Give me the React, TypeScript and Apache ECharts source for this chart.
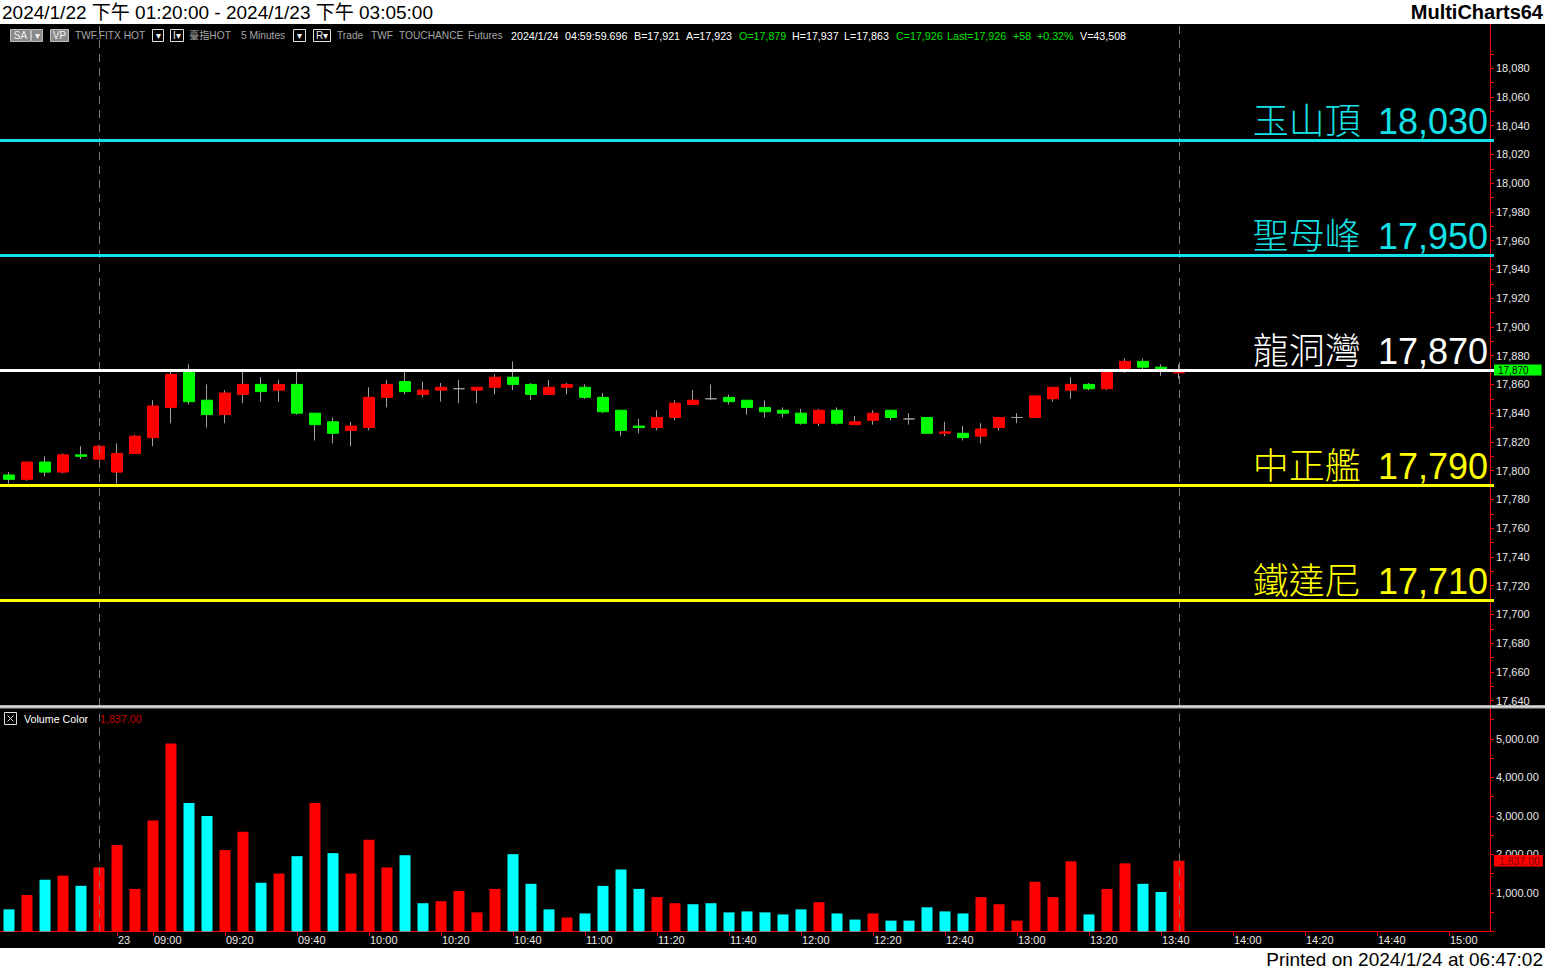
import React, { useEffect, useRef } from "react";
import * as echarts from "echarts";

const FONT = '"Liberation Sans", Arial, "Noto Sans CJK TC", sans-serif';

// ---- category axis (5-minute bars) ----
const sessionDates = ["2024/1/22", "2024/1/23"];
const sessionStarts = ["13:20", "08:50"];
const sessionBarCounts = [6, 77];

function buildTimes(): string[] {
  const out: string[] = [];
  sessionDates.forEach((d, k) => {
    const [h, m] = sessionStarts[k].split(":").map(Number);
    let t = h * 60 + m;
    for (let j = 0; j < sessionBarCounts[k]; j++) {
      const hh = String(Math.floor(t / 60)).padStart(2, "0");
      const mm = String(t % 60).padStart(2, "0");
      out.push(`${d} ${hh}:${mm}`);
      t += 5;
    }
  });
  return out;
}
const times = buildTimes();
const dayTwoStart = sessionBarCounts[0];

// ---- candles: [open, close, low, high] ----
const ohlc: number[][] = [
  [17797, 17794, 17791, 17799],
  [17794, 17806, 17793, 17806],
  [17806, 17799, 17796, 17810],
  [17799, 17811, 17798, 17812],
  [17811, 17810, 17808, 17817],
  [17808, 17817, 17808, 17818],
  [17799, 17812, 17791, 17819],
  [17812, 17824, 17812, 17825],
  [17823, 17845, 17817, 17849],
  [17844, 17867, 17833, 17870],
  [17869, 17848, 17846, 17874],
  [17849, 17839, 17830, 17860],
  [17839, 17854, 17833, 17856],
  [17853, 17860, 17847, 17870],
  [17860, 17855, 17848, 17865],
  [17856, 17860, 17848, 17863],
  [17860, 17840, 17839, 17870],
  [17840, 17832, 17821, 17840],
  [17834, 17826, 17819, 17837],
  [17828, 17831, 17817, 17834],
  [17830, 17851, 17828, 17858],
  [17851, 17860, 17844, 17863],
  [17862, 17855, 17853, 17869],
  [17853, 17856, 17851, 17862],
  [17856, 17858, 17848, 17861],
  [17857, 17857, 17847, 17863],
  [17856, 17858, 17847, 17858],
  [17858, 17865, 17853, 17867],
  [17865, 17860, 17856, 17876],
  [17860, 17853, 17849, 17861],
  [17853, 17858, 17853, 17863],
  [17858, 17860, 17853, 17861],
  [17858, 17851, 17850, 17860],
  [17851, 17841, 17840, 17854],
  [17842, 17828, 17824, 17842],
  [17831, 17830, 17826, 17836],
  [17830, 17837, 17828, 17842],
  [17837, 17847, 17835, 17849],
  [17846, 17849, 17846, 17856],
  [17850, 17850, 17849, 17860],
  [17851, 17848, 17846, 17853],
  [17849, 17844, 17839, 17849],
  [17844, 17841, 17837, 17849],
  [17842, 17840, 17837, 17844],
  [17840, 17833, 17832, 17843],
  [17833, 17842, 17831, 17843],
  [17842, 17833, 17832, 17844],
  [17832, 17834, 17832, 17838],
  [17835, 17840, 17832, 17842],
  [17842, 17837, 17835, 17842],
  [17836, 17836, 17832, 17840],
  [17837, 17826, 17826, 17837],
  [17826, 17827, 17824, 17834],
  [17826, 17823, 17821, 17831],
  [17824, 17829, 17819, 17833],
  [17830, 17837, 17828, 17837],
  [17837, 17837, 17833, 17840],
  [17837, 17852, 17837, 17852],
  [17850, 17858, 17848, 17858],
  [17856, 17860, 17850, 17865],
  [17860, 17857, 17856, 17861],
  [17857, 17869, 17856, 17870],
  [17871, 17876, 17868, 17878],
  [17876, 17872, 17870, 17878],
  [17872, 17871, 17866, 17874],
  [17868, 17870, 17864, 17874],
];

// ---- volume ----
const volumes = [
  575, 947, 1345, 1451, 1186, 1664, 2248, 1106, 2885, 4880,
  3340, 3000, 2115, 2593, 1266, 1505, 1956, 3340, 2036, 1505,
  2381, 1664, 1982, 735, 788, 1053, 496, 1106, 2009, 1239,
  575, 363, 469, 1186, 1611, 1106, 894, 735, 708, 735,
  496, 522, 496, 443, 575, 761, 469, 310, 469, 283,
  283, 628, 522, 469, 894, 708, 283, 1292, 894, 1823,
  443, 1106, 1770, 1239, 1027, 1837,
];
// 1 = up-volume (red), 0 = down-volume (cyan)
const volumeUp = [
  0, 1, 0, 1, 0, 1, 1, 1, 1, 1,
  0, 0, 1, 1, 0, 1, 0, 1, 0, 1,
  1, 1, 0, 0, 1, 1, 1, 1, 0, 0,
  0, 1, 0, 0, 0, 0, 1, 1, 0, 0,
  0, 0, 0, 0, 0, 1, 0, 0, 1, 0,
  0, 0, 0, 0, 1, 1, 1, 1, 1, 1,
  0, 1, 1, 0, 0, 1,
];

// ---- price levels ----
const levelNames = ["玉山頂", "聖母峰", "龍洞灣", "中正艦", "鐵達尼"];
const levelValues = [18030, 17950, 17870, 17790, 17710];
const levelColors = ["#14E2E8", "#14E2E8", "#FFFFFF", "#FFFF00", "#FFFF00"];

const priceTicks = [
  17640, 17660, 17680, 17700, 17720, 17740, 17760, 17780, 17800, 17820, 17840, 17860,
  17880, 17900, 17920, 17940, 17960, 17980, 18000, 18020, 18040, 18060, 18080,
];
const volumeTicks = [1000, 2000, 3000, 4000, 5000];
const lastPrice = 17870;
const lastVolume = 1837;

// ---- header texts ----
const titleText = "2024/1/22 下午 01:20:00 - 2024/1/23 下午 03:05:00";
const printedText = "Printed on 2024/1/24 at 06:47:02";
const infoGrey = [
  ["TWF.FITX HOT", 75], ["臺指HOT", 189], ["5 Minutes", 241], ["Trade", 337],
  ["TWF", 371], ["TOUCHANCE", 399], ["Futures", 468],
];
const infoWhite = [
  ["2024/1/24", 511], ["04:59:59.696", 565], ["B=17,921", 634], ["A=17,923", 686],
  ["H=17,937", 792], ["L=17,863", 844], ["V=43,508", 1080],
];
const infoGreen = [
  ["O=17,879", 739], ["C=17,926", 896], ["Last=17,926", 947], ["+58", 1013], ["+0.32%", 1037],
];

const fmt = (v: number) => v.toLocaleString("en-US");
const fmt2 = (v: number) => v.toLocaleString("en-US", { minimumFractionDigits: 2, maximumFractionDigits: 2 });

function txt(text: string, x: number, y: number, fill: string, fontSize = 11, extra: any = {}) {
  return {
    type: "text",
    z: 100,
    style: {
      text, x, y, fill, fontSize, fontFamily: FONT,
      verticalAlign: "middle", textVerticalAlign: "middle",
      ...extra,
    },
  };
}

function boxBtn(x: number, w: number, label: string, filled: boolean) {
  return [
    {
      type: "rect", z: 100,
      shape: { x: x + 0.5, y: 29.5, width: w, height: 12 },
      style: filled ? { fill: "#8A8A8A", stroke: "#BDBDBD", lineWidth: 1 } : { fill: "#000", stroke: "#E0E0E0", lineWidth: 1 },
    },
    txt(label, x + w / 2 + 0.5, 35.5, "#F0F0F0", 10, { align: "center", textAlign: "center" }),
  ];
}

export default function App() {
  const ref = useRef<HTMLDivElement>(null);

  useEffect(() => {
    document.body.style.margin = "0";
    const chart = echarts.init(ref.current!, null, { renderer: "svg" });

    const isDoji = (c: number[]) => c[0] === c[1];
    const wickData = ohlc.map((c) => [c[0], c[1], c[2], c[3]]);
    const bodyData = ohlc.map((c) => {
      const v = [c[0], c[1], Math.min(c[0], c[1]), Math.max(c[0], c[1])];
      if (isDoji(c)) {
        return {
          value: v,
          itemStyle: { color: "#A0A0A0", color0: "#A0A0A0", borderColor: "#A0A0A0", borderColor0: "#A0A0A0", borderColorDoji: "#A0A0A0" },
        };
      }
      return { value: v };
    });

    const labelShown = (i: number) => {
      if (i === dayTwoStart) return true;
      if (i < dayTwoStart) return false;
      const mm = Number(times[i].slice(-2));
      return mm % 20 === 0;
    };

    const sessionEnds = [times[dayTwoStart - 1], times[ohlc.length - 1]];
    const dashed = { color: "#7A7A7A", width: 1, type: [8, 6] };

    const priceMinorTicks: number[] = [];
    priceTicks.forEach((v) => { priceMinorTicks.push(v, v + 10); });
    const volMinorTicks: number[] = [];
    volumeTicks.forEach((v) => { volMinorTicks.push(v - 500, v); });
    volMinorTicks.push(5500);

    const option: any = {
      animation: false,
      backgroundColor: "#000000",
      grid: [
        { left: 0, top: 24, width: 1494, height: 682 },
        { left: 0, top: 708, width: 1494, height: 223.5 },
      ],
      xAxis: [
        { type: "category", gridIndex: 0, data: times, show: false },
        {
          type: "category", gridIndex: 1, data: times,
          axisLine: { show: true, lineStyle: { color: "#FF0000", width: 1 } },
          axisTick: { show: true, alignWithLabel: true, length: 4, interval: (i: number) => labelShown(i), lineStyle: { color: "#FF0000" } },
          axisLabel: {
            show: true, interval: (i: number) => labelShown(i),
            formatter: (v: string, i: number) => (i === dayTwoStart ? v.split(" ")[0].split("/")[2] : v.split(" ")[1]),
            color: "#E8E8E8", fontSize: 11, fontFamily: FONT, align: "left", margin: 3, padding: [0, 0, 0, 1],
          },
          splitLine: { show: false },
        },
      ],
      yAxis: [
        {
          type: "value", gridIndex: 0, position: "right", offset: -4,
          min: 17636.3, max: 18110.7, scale: true,
          axisLine: { show: true, lineStyle: { color: "#FF0000", width: 1 } },
          axisTick: { show: true, length: 4, customValues: priceMinorTicks, lineStyle: { color: "#FF0000" } },
          axisLabel: { show: true, customValues: priceTicks, formatter: (v: number) => fmt(v), color: "#E8E8E8", fontSize: 11, fontFamily: FONT, margin: 6 },
          splitLine: { show: false },
        },
        {
          type: "value", gridIndex: 1, position: "right", offset: -4,
          min: 0, max: 5805,
          axisLine: { show: true, lineStyle: { color: "#FF0000", width: 1 } },
          axisTick: { show: true, length: 4, customValues: volMinorTicks, lineStyle: { color: "#FF0000" } },
          axisLabel: { show: true, customValues: volumeTicks, formatter: (v: number) => fmt2(v), color: "#E8E8E8", fontSize: 11, fontFamily: FONT, margin: 6 },
          splitLine: { show: false },
        },
      ],
      series: [
        {
          name: "wick", type: "candlestick", xAxisIndex: 0, yAxisIndex: 0, z: 2,
          data: wickData, barWidth: 0.1,
          itemStyle: { color: "#A0A0A0", color0: "#A0A0A0", borderColor: "#A0A0A0", borderColor0: "#A0A0A0", borderColorDoji: "#A0A0A0", borderWidth: 1 },
        },
        {
          name: "body", type: "candlestick", xAxisIndex: 0, yAxisIndex: 0, z: 3,
          data: bodyData, barWidth: 12,
          itemStyle: { color: "#FF0000", color0: "#00FF00", borderColor: "#FF0000", borderColor0: "#00FF00", borderColorDoji: "#A0A0A0", borderWidth: 1 },
        },
        {
          name: "levels", type: "line", xAxisIndex: 0, yAxisIndex: 0, z: 10, data: [],
          markLine: {
            silent: true, symbol: ["none", "none"], animation: false,
            data: [
              ...sessionEnds.map((t) => ({ xAxis: t, lineStyle: dashed, label: { show: false } })),
              ...levelValues.map((v, k) => ({
                yAxis: v,
                lineStyle: { color: levelColors[k], width: 3, type: "solid" },
                label: {
                  show: true, position: "insideEndTop", formatter: `${levelNames[k]} \u2009${fmt(v)}`,
                  color: levelColors[k], fontSize: 36, fontWeight: 300, fontFamily: FONT, distance: [6, 1],
                },
              })),
              {
                yAxis: lastPrice,
                lineStyle: { color: "rgba(0,0,0,0)", width: 0 },
                label: {
                  show: true, position: "end", formatter: fmt(lastPrice), color: "#000000",
                  backgroundColor: "#00FF00", fontSize: 10, fontFamily: FONT, padding: [1, 13, 0, 4], distance: 0,
                },
              },
            ],
          },
        },
        {
          name: "Volume", type: "bar", xAxisIndex: 1, yAxisIndex: 1, barWidth: 11, z: 3,
          data: volumes.map((v, i) => ({ value: v, itemStyle: { color: volumeUp[i] ? "#FF0000" : "#00FFFF" } })),
          markLine: {
            silent: true, symbol: ["none", "none"], animation: false,
            data: [
              ...sessionEnds.map((t) => ({ xAxis: t, lineStyle: dashed, label: { show: false } })),
              {
                yAxis: lastVolume,
                lineStyle: { color: "rgba(0,0,0,0)", width: 0 },
                label: {
                  show: true, position: "end", formatter: fmt2(lastVolume), color: "#7A0000",
                  backgroundColor: "#FF0000", fontSize: 10.5, fontFamily: FONT, padding: [1, 3, 0, 5], distance: 0,
                },
              },
            ],
          },
        },
      ],
      graphic: [
        { type: "rect", z: 90, shape: { x: 0, y: 0, width: 1545, height: 24 }, style: { fill: "#FFFFFF" } },
        { type: "rect", z: 90, shape: { x: 0, y: 948, width: 1545, height: 22 }, style: { fill: "#FFFFFF" } },
        txt(titleText, 2, 12, "#000000", 19),
        txt("MultiCharts64", 1543, 12, "#000000", 20, { align: "right", textAlign: "right", fontWeight: "bold" }),
        txt(printedText, 1543, 959.5, "#000000", 19, { align: "right", textAlign: "right" }),
        // separator between panes
        { type: "rect", z: 95, shape: { x: 0, y: 705.5, width: 1545, height: 3 }, style: { fill: "#B8B8B8" } },
        { type: "line", z: 96, shape: { x1: 0, y1: 706, x2: 1545, y2: 706 }, style: { stroke: "#FFFFFF", lineWidth: 1 } },
        // info line
        ...boxBtn(10, 20, "SA", true),
        ...boxBtn(31, 11, "▾", true),
        ...boxBtn(50, 18, "VP", true),
        ...boxBtn(152, 11, "▾", false),
        ...boxBtn(170, 13, "I▾", false),
        ...boxBtn(293, 12, "▾", false),
        ...boxBtn(313, 17, "R▾", false),
        ...infoGrey.map(([t, x]) => txt(t as string, x as number, 35.5, "#A6A6A6", 10.2)),
        ...infoWhite.map(([t, x]) => txt(t as string, x as number, 35.5, "#FFFFFF", 10.7)),
        ...infoGreen.map(([t, x]) => txt(t as string, x as number, 35.5, "#00E000", 10.7)),
        // volume pane title
        { type: "rect", z: 100, shape: { x: 4.5, y: 712.5, width: 12, height: 12 }, style: { fill: "#000", stroke: "#E0E0E0", lineWidth: 1 } },
        { type: "line", z: 100, shape: { x1: 7.5, y1: 715.5, x2: 13.5, y2: 721.5 }, style: { stroke: "#E0E0E0", lineWidth: 1 } },
        { type: "line", z: 100, shape: { x1: 13.5, y1: 715.5, x2: 7.5, y2: 721.5 }, style: { stroke: "#E0E0E0", lineWidth: 1 } },
        txt("Volume Color", 24, 719, "#FFFFFF", 10.7),
        txt(fmt2(lastVolume), 100, 719, "#C80000", 10.7),
      ],
    };

    chart.setOption(option);
    return () => chart.dispose();
  }, []);

  return <div ref={ref} style={{ position: "fixed", left: 0, top: 0, width: 1545, height: 970 }} />;
}
